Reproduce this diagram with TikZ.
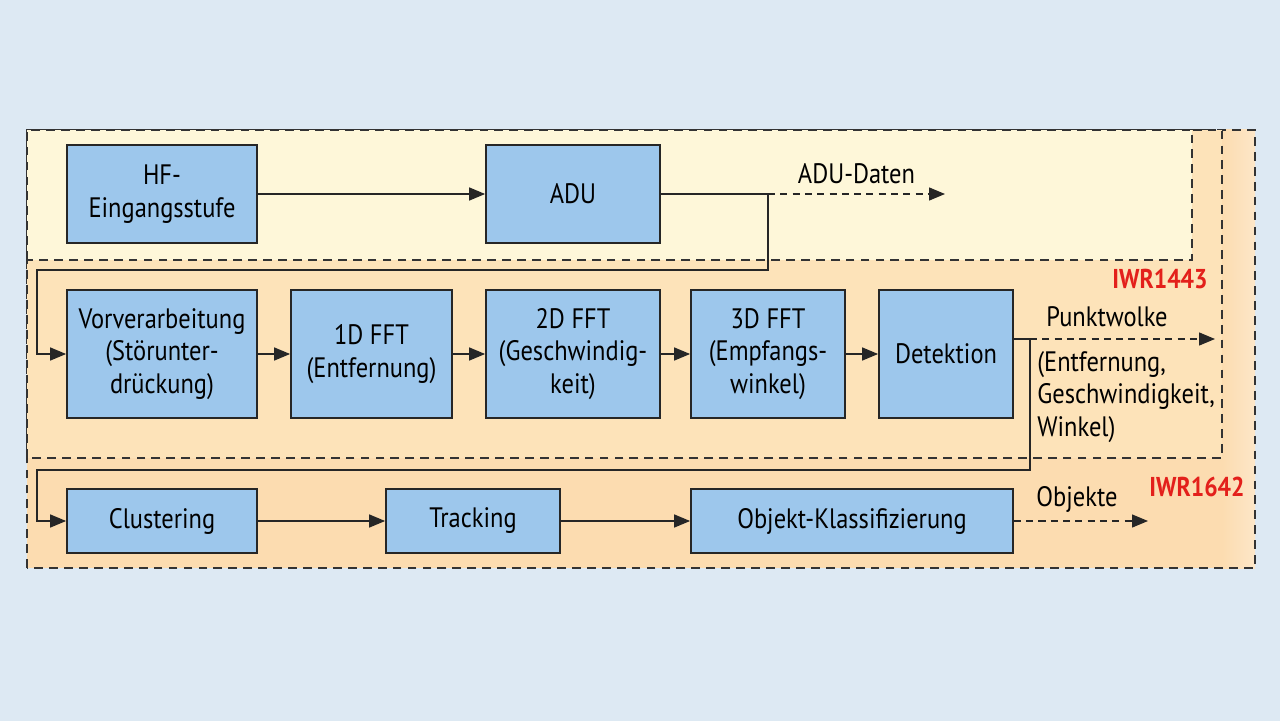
\documentclass[tikz,border=0pt]{standalone}
\usepackage{fontspec}
\setmainfont{PT Sans}[FakeStretch=0.87]
\usetikzlibrary{arrows.meta}
\definecolor{bgblue}{HTML}{DDE9F3}
\definecolor{paleyellow}{HTML}{FEF7D9}
\definecolor{lightorange}{HTML}{FDE3B9}
\definecolor{outerorange}{HTML}{FCDCB0}
\definecolor{boxblue}{HTML}{9DC7EC}
\definecolor{chipred}{HTML}{E3201B}
\begin{document}
\begin{tikzpicture}[
    font=\fontsize{16}{18.5}\selectfont,
    block/.style={draw=black!85, line width=1pt, fill=boxblue, align=center, inner sep=2pt},
    region/.style={draw=black!80, line width=1pt, dash pattern=on 5pt off 3.5pt},
    flow/.style={draw=black!85, line width=0.8pt, -{Triangle[length=3.2mm,width=2.6mm]}},
    dataout/.style={flow, dash pattern=on 4pt off 3pt},
    chip/.style={text=chipred, font=\fontsize{15.5}{18}\selectfont\bfseries}
  ]
    \useasboundingbox[fill=bgblue] (0,0) rectangle (25.6,14.42);
    % chip regions
    \fill[outerorange] (0.54,3.06) rectangle (25.1,11.82);
    \shade[left color=outerorange, right color=outerorange!70!white] (24.44,3.06) rectangle (25.1,11.82);
    \draw[region] (0.54,3.06) rectangle (25.1,11.82);
    \draw[region, fill=lightorange] (0.54,5.26) rectangle (24.44,11.82);
    \draw[region, fill=paleyellow] (0.54,9.22) rectangle (23.84,11.82);
    \node[chip] (iwr1443) at (23.2,8.84) {IWR1443};
    \node[chip] (iwr1642) at (23.94,4.68) {IWR1642};

    % top row
    \node[block, minimum width=3.8cm, minimum height=1.96cm] (hf) at (3.24,10.54) {HF-\\Eingangsstufe};
    \node[block, minimum width=3.48cm, minimum height=1.96cm] (adu) at (11.46,10.54) {ADU};
    \coordinate (adusplit) at (15.36,10.54);
    \coordinate (aduend) at (18.9,10.54);
    \draw[flow] (hf) -- (adu);
    \draw[draw=black!85, line width=0.8pt] (adu) -- (adusplit);
    \draw[dataout] (adusplit) -- (aduend) node[pos=0.5, above=2pt] (adudaten) {ADU-Daten};

    % middle row
    \node[block, minimum width=3.8cm, minimum height=2.56cm] (vor) at (3.24,7.34) {Vorverarbeitung\\(Störunter-\\drückung)};
    \node[block, minimum width=3.22cm, minimum height=2.56cm] (fft1) at (7.43,7.34) {1D FFT\\(Entfernung)};
    \node[block, minimum width=3.48cm, minimum height=2.56cm] (fft2) at (11.46,7.34) {2D FFT\\(Geschwindig-\\keit)};
    \node[block, minimum width=3.08cm, minimum height=2.56cm] (fft3) at (15.36,7.34) {3D FFT\\(Empfangs-\\winkel)};
    \node[block, minimum width=2.68cm, minimum height=2.56cm] (det) at (18.92,7.34) {Detektion};
    \draw[flow] (adusplit) |- (0.74,9.02) |- (vor.west);
    \draw[flow] (vor) -- (fft1);
    \draw[flow] (fft1) -- (fft2);
    \draw[flow] (fft2) -- (fft3);
    \draw[flow] (fft3) -- (det);
    \coordinate (detsplit) at (20.6,7.64);
    \coordinate (detend) at (24.3,7.64);
    \draw[draw=black!85, line width=0.8pt] (det.east |- detsplit) -- (detsplit);
    \draw[dataout] (detsplit) -- (detend);
    \node (punkt) at (22.14,8.08) {Punktwolke};
    \node[anchor=north west, align=left, inner sep=0pt] (werte) at (20.74,7.4) {(Entfernung,\\Geschwindigkeit,\\Winkel)};

    % bottom row
    \node[block, minimum width=3.8cm, minimum height=1.28cm] (clu) at (3.24,4.0) {Clustering};
    \node[block, minimum width=3.48cm, minimum height=1.28cm] (tra) at (9.46,4.0) {Tracking};
    \node[block, minimum width=6.44cm, minimum height=1.28cm] (obj) at (17.04,4.0) {Objekt-Klassifizierung};
    \draw[flow] (detsplit) |- (0.74,5.02) |- (clu.west);
    \draw[flow] (clu) -- (tra);
    \draw[flow] (tra) -- (obj);
    \coordinate (objend) at (22.96,4.0);
    \draw[dataout] (obj) -- (objend);
    \node (objekte) at (21.54,4.44) {Objekte};
\end{tikzpicture}
\end{document}
